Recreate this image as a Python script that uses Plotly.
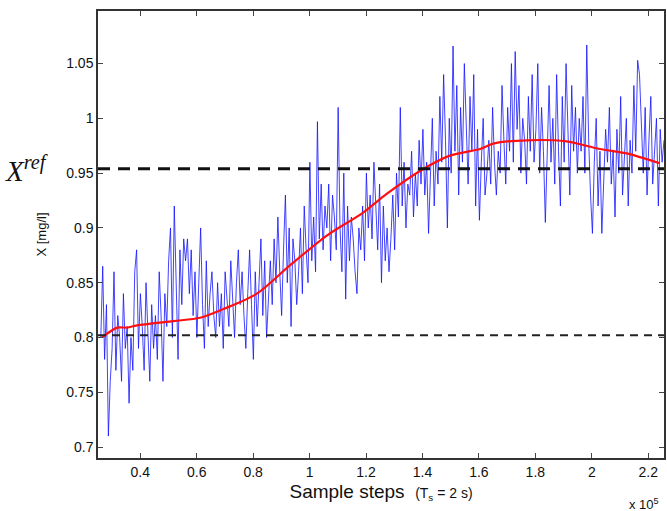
import numpy as np
import plotly.graph_objs as go

x_measured = [
    0.80, 0.865, 0.78, 0.83, 0.71, 0.76, 0.79, 0.86, 0.77, 0.82, 0.80, 0.76, 0.84, 0.79, 0.81,
    0.74, 0.80, 0.77, 0.86, 0.88, 0.79, 0.84, 0.81, 0.77, 0.85, 0.80, 0.76, 0.83, 0.79, 0.82,
    0.78, 0.86, 0.82, 0.76, 0.84, 0.81, 0.87, 0.90, 0.80, 0.92, 0.85, 0.78, 0.88, 0.83, 0.89,
    0.87, 0.89, 0.84, 0.88, 0.82, 0.86, 0.80, 0.85, 0.90, 0.83, 0.79, 0.87, 0.81, 0.84, 0.86,
    0.82, 0.80, 0.85, 0.81, 0.84, 0.79, 0.86, 0.83, 0.81, 0.87, 0.84, 0.80, 0.85, 0.88, 0.83,
    0.86, 0.82, 0.79, 0.84, 0.88, 0.83, 0.78, 0.86, 0.81, 0.85, 0.89, 0.82, 0.87, 0.80, 0.84,
    0.87, 0.83, 0.89, 0.85, 0.91, 0.86, 0.82, 0.88, 0.93, 0.85, 0.90, 0.81, 0.89, 0.87, 0.83,
    0.86, 0.90, 0.84, 0.92, 0.88, 0.85, 0.96, 0.87, 0.91, 0.86, 0.997, 0.89, 0.94, 0.88, 0.92,
    0.90, 0.94, 0.87, 0.93, 0.91, 0.88, 1.01, 0.90, 0.86, 0.95, 0.835, 0.92, 0.87, 0.91, 0.89,
    0.86, 0.84, 0.90, 0.88, 0.92, 0.87, 0.95, 0.90, 0.93, 0.89, 0.96, 0.91, 0.88, 0.94, 0.85,
    0.92, 0.87, 0.90, 0.86, 0.89, 0.93, 0.88, 0.95, 0.91, 1.01, 0.92, 0.96, 0.90, 0.94, 0.93,
    0.97, 0.91, 0.95, 0.92, 0.98, 0.94, 0.99, 0.93, 0.96, 0.895, 0.95, 1.00, 0.92, 0.97, 0.94,
    1.02, 0.96, 1.04, 0.98, 0.90, 1.00, 0.95, 1.066, 0.97, 1.03, 0.93, 1.01, 0.96, 1.05, 0.99,
    0.94, 1.02, 0.97, 1.04, 0.92, 0.99, 0.907, 0.96, 1.00, 0.93, 0.95, 0.98, 0.94, 1.01, 0.96,
    0.93, 0.97, 0.95, 1.03, 0.98, 0.94, 1.01, 0.97, 1.05, 0.96, 1.061, 0.99, 1.03, 0.95, 1.00,
    0.98, 0.94, 1.02, 0.97, 1.04, 0.96, 0.99, 1.05, 0.95, 1.01, 0.97, 0.905, 0.98, 1.03, 0.96,
    1.00, 0.94, 1.04, 0.97, 0.92, 1.02, 0.96, 1.05, 0.99, 0.93, 1.03, 0.97, 1.01, 0.95, 1.00,
    0.97, 1.02, 0.95, 1.067, 0.98, 0.93, 0.895, 0.96, 1.00, 0.92, 0.97, 0.895, 0.94, 0.99, 0.96,
    1.01, 0.94, 0.97, 0.91, 0.99, 0.95, 1.02, 0.93, 0.96, 1.00, 0.92, 0.98, 0.95, 1.03, 0.97,
    1.053, 1.04, 0.99, 0.95, 1.01, 0.93, 0.98, 1.02, 0.94, 0.97, 1.00, 0.92, 0.99, 0.96, 0.98,
]
# sample steps (x 10^5), evenly spaced
steps = np.linspace(0.26, 2.256, len(x_measured))

# smoothed trend (red)
trend_steps = [0.264, 0.318, 0.353, 0.388, 0.518, 0.612, 0.695, 0.813, 0.931, 1.061,
               1.19, 1.273, 1.391, 1.497, 1.604, 1.651, 1.769, 1.91, 2.028, 2.123, 2.241]
trend_values = [0.800, 0.809, 0.809, 0.811, 0.815, 0.818, 0.826, 0.840, 0.866, 0.893,
                0.914, 0.931, 0.952, 0.966, 0.972, 0.977, 0.980, 0.979, 0.972, 0.968, 0.959]

x_ref = 0.954
x_low = 0.802

font = 'Liberation Sans, Arial, sans-serif'

trace_meas = go.Scatter(x=steps, y=x_measured, mode='lines',
                        line=dict(color='rgba(20,20,255,0.8)', width=1))
trace_trend = go.Scatter(x=trend_steps, y=trend_values, mode='lines',
                         line=dict(color='#ff1010', width=2.2, shape='spline', smoothing=0.8))

layout = dict(
    width=667, height=511,
    margin=dict(l=98, r=3, t=11, b=53),
    paper_bgcolor='white', plot_bgcolor='white',
    showlegend=False,
    font=dict(family=font, size=14, color='#111'),
    xaxis=dict(range=[0.25, 2.256], tick0=0, dtick=0.2, automargin=False,
               ticks='inside', ticklen=5, tickcolor='#444',
               showline=True, linecolor='#333', linewidth=1.5, mirror='allticks',
               showgrid=False, zeroline=False,
               title=dict(text="Sample steps  <span style='font-size:14px'>(T<sub>s</sub> = 2 s)</span>",
                          font=dict(size=19), standoff=6)),
    yaxis=dict(range=[0.69, 1.098], tick0=0, dtick=0.05, automargin=False,
               ticks='inside', ticklen=5, tickcolor='#444',
               showline=True, linecolor='#333', linewidth=1.5, mirror='allticks',
               showgrid=False, zeroline=False,
               title=dict(text='X [mg/l]', font=dict(size=13), standoff=17)),
    annotations=[
        dict(text='x 10<sup>5</sup>', xref='paper', yref='paper', x=0.995, y=-0.08,
             xanchor='right', yanchor='top', showarrow=False, font=dict(size=13)),
        dict(text='<i>X</i><sup><i>ref</i></sup>', xref='paper', yref='y', x=-0.085, y=x_ref,
             xanchor='right', yanchor='middle', showarrow=False,
             font=dict(family='Liberation Serif, Times New Roman, serif', size=29)),
    ],
)

fig = go.Figure(data=[trace_meas, trace_trend], layout=layout)
fig.add_hline(y=x_ref, line=dict(color='#111', width=3, dash='12px,8px'))
fig.add_hline(y=x_low, line=dict(color='#222', width=2, dash='8px,6px'))
# drop the browser's default body margin so the 667x511 figure fills the window
fig.write_html("out.html", config={'displayModeBar': False},
               post_script="document.body.style.margin='0px';")
